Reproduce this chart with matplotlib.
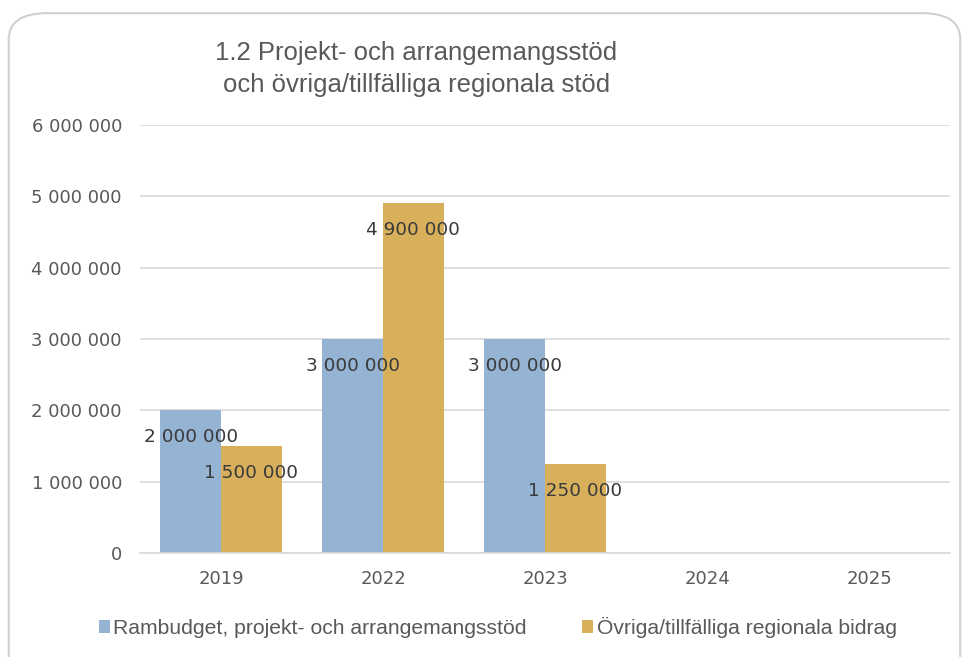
import matplotlib
matplotlib.use("Agg")
import matplotlib.pyplot as plt
from matplotlib.patches import FancyBboxPatch
from matplotlib.ticker import FuncFormatter
import numpy as np

categories = ["2019", "2022", "2023", "2024", "2025"]
rambudget = [2000000, 3000000, 3000000, 0, 0]
ovriga = [1500000, 4900000, 1250000, 0, 0]
series_names = ["Rambudget, projekt- och arrangemangsstöd", "Övriga/tillfälliga regionala bidrag"]
title = "1.2 Projekt- och arrangemangsstöd\noch övriga/tillfälliga regionala stöd"

plt.rcParams['font.family'] = ['Liberation Sans', 'DejaVu Sans']
txt = '#595959'
c_blue = '#95B3D2'
c_gold = '#D8B05C'
num_font = ['DejaVu Sans']

fig = plt.figure(figsize=(9.68, 6.57), dpi=100)
border = FancyBboxPatch((0.009, -0.05), 0.983, 1.03, boxstyle="round,pad=0,rounding_size=0.04",
                        transform=fig.transFigure, facecolor='white', edgecolor='#D0D0D0', lw=1.5, zorder=-10)
fig.patches.append(border)
ax = fig.add_axes([0.1446, 0.158, 0.837, 0.652])
ax.set_zorder(5)
x = np.arange(len(categories))
w = 0.375
def fmt(v):
    return f"{int(v):,}".replace(",", " ")
b1 = ax.bar(x - w/2, rambudget, w, color=c_blue, zorder=2)
b2 = ax.bar(x + w/2, ovriga, w, color=c_gold, zorder=2)
for bars, vals in ((b1, rambudget), (b2, ovriga)):
    for r, v in zip(bars, vals):
        if v > 0:
            ax.annotate(fmt(v), (r.get_x() + r.get_width()/2, v), xytext=(0, -19.5), textcoords='offset points',
                        ha='center', va='center', fontsize=13.3, color='#3A3A3A', zorder=3, family=num_font)
ax.set_ylim(0, 6000000)
ax.set_xlim(-0.5, len(categories) - 0.5)
ax.set_yticks(np.arange(0, 6000001, 1000000))
ax.yaxis.set_major_formatter(FuncFormatter(lambda v, p: fmt(v)))
ax.set_xticks(x)
ax.set_xticklabels(categories)
ax.tick_params(axis='both', length=0, labelsize=13, colors=txt)
for lab in ax.get_xticklabels() + ax.get_yticklabels():
    lab.set_family(num_font)
ax.tick_params(axis='y', pad=13)
ax.tick_params(axis='x', pad=12)
ax.grid(axis='y', color='#D9D9D9', lw=1.2, zorder=0)
for s in ['top', 'right', 'left']:
    ax.spines[s].set_visible(False)
ax.spines['bottom'].set_color('#D9D9D9')
ax.spines['bottom'].set_linewidth(1.2)
ax.set_facecolor('none')

fig.text(0.430, 0.895, title, ha='center', va='center', fontsize=18.5, color=txt, linespacing=1.4)

leg = fig.legend([b1, b2], series_names, loc='center', bbox_to_anchor=(0.514, 0.045), ncol=2, frameon=False,
                 fontsize=15.2, handlelength=0.55, handleheight=0.55, handletextpad=0.15, columnspacing=2.6,
                 labelcolor=txt)
fig.savefig("out.png", dpi=100)
